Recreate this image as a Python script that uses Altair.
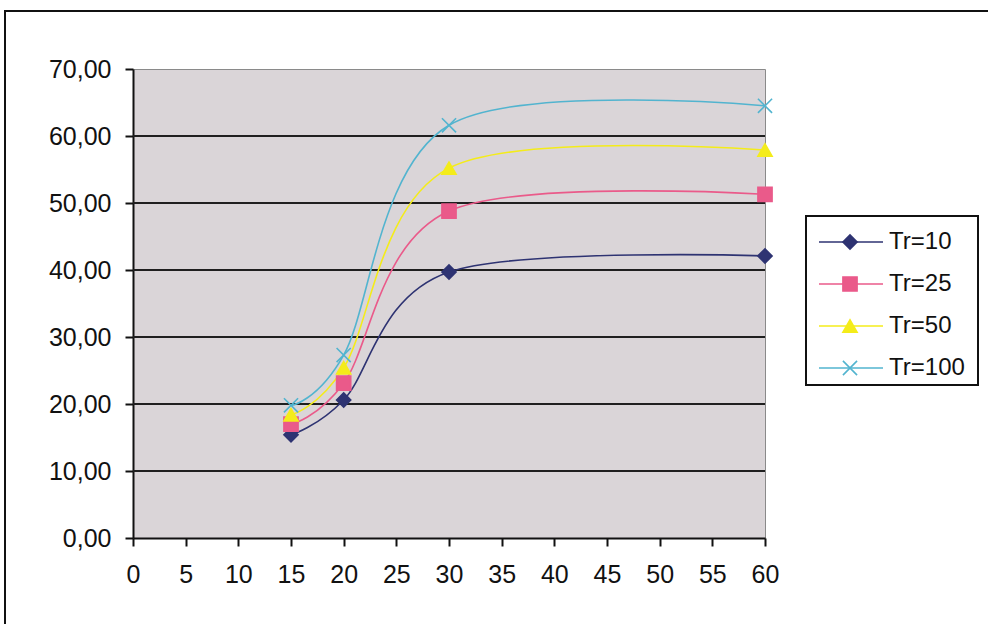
import altair as alt
import pandas as pd

# Return period series, measured at four durations
series = ["Tr=10", "Tr=25", "Tr=50", "Tr=100"]
durations = [15, 20, 30, 60]
tr10 = [15.4, 20.6, 39.7, 42.1]
tr25 = [17.0, 23.1, 48.8, 51.3]
tr50 = [18.4, 25.4, 55.2, 57.9]
tr100 = [19.8, 27.3, 61.6, 64.5]
grid_values = [10, 20, 30, 40, 50, 60]

colors = ["#2e3372", "#ea5a8a", "#f4ec1a", "#52b4cf"]
shapes = ["diamond", "square", "triangle-up", "M-1,-1L1,1M-1,1L1,-1"]

rows = []
for name, vals in zip(series, [tr10, tr25, tr50, tr100]):
    for d, v in zip(durations, vals):
        rows.append({"series": name, "dur": d, "val": v})
df = pd.DataFrame(rows)
legend_df = pd.DataFrame({"series": series})
grid_df = pd.DataFrame({"g": grid_values})

FONT = "Liberation Sans"
W, H = 632, 469
PL, PT = 133, 69

color_scale = alt.Scale(domain=series, range=colors)
shape_scale = alt.Scale(domain=series, range=shapes)
yq = alt.Scale(domain=[0, 70], nice=False)
xq = alt.Scale(domain=[0, 60], nice=False)

x_enc = alt.X(
    "dur:Q", scale=xq, title=None,
    axis=alt.Axis(values=list(range(0, 65, 5)), grid=False, domainColor="#111",
                  domainWidth=2, tickColor="#111", tickWidth=2, tickSize=8,
                  labelFont=FONT, labelFontSize=25, labelColor="#111",
                  labelPadding=16, labelFlush=False),
)
y_enc = alt.Y(
    "val:Q", scale=yq, title=None,
    axis=alt.Axis(values=list(range(0, 80, 10)), grid=False, domainColor="#111",
                  domainWidth=2, tickColor="#111", tickWidth=2, tickSize=8,
                  labelFont=FONT, labelFontSize=25, labelColor="#111",
                  labelPadding=14,
                  labelExpr="replace(format(datum.value, '.2f'), '.', ',')"),
)

# Outer frame around the whole chart
frame = alt.Chart(legend_df).mark_rect(
    fill="white", fillOpacity=0, stroke="#111", strokeWidth=2
).encode(
    x=alt.value(5 - PL), x2=alt.value(1000 - PL),
    y=alt.value(11 - PT), y2=alt.value(700 - PT),
)

grid = alt.Chart(grid_df).mark_rule(color="#1f1f1f", strokeWidth=2).encode(
    y=alt.Y("g:Q", scale=yq, axis=None)
)

lines = alt.Chart(df).mark_line(
    interpolate="cardinal", tension=0, strokeWidth=1.6
).encode(
    x=x_enc, y=y_enc,
    color=alt.Color("series:N", scale=color_scale, legend=None),
    detail="series:N",
)

points = alt.Chart(df).mark_point(filled=True, size=200, strokeWidth=1.6, opacity=1).encode(
    x=alt.X("dur:Q", scale=xq),
    y=alt.Y("val:Q", scale=yq, axis=None),
    color=alt.Color("series:N", scale=color_scale, legend=None),
    stroke=alt.Stroke("series:N", scale=color_scale, legend=None),
    shape=alt.Shape("series:N", scale=shape_scale, legend=None),
)

# Legend drawn as its own layers
ly = alt.Y("series:N", scale=alt.Scale(type="point", domain=series,
                                       range=[242 - PT, 368 - PT], padding=0),
           axis=None)
lbox = alt.Chart(legend_df).mark_rect(
    fill="white", stroke="#111", strokeWidth=2
).encode(
    x=alt.value(806 - PL), x2=alt.value(978 - PL),
    y=alt.value(216 - PT), y2=alt.value(385 - PT),
)
lline = alt.Chart(legend_df).mark_rule(strokeWidth=1.6).encode(
    x=alt.value(819 - PL), x2=alt.value(883 - PL), y=ly,
    color=alt.Color("series:N", scale=color_scale, legend=None),
)
lsym = alt.Chart(legend_df).mark_point(filled=True, size=200, strokeWidth=1.6, opacity=1).encode(
    x=alt.value(850 - PL), y=ly,
    color=alt.Color("series:N", scale=color_scale, legend=None),
    stroke=alt.Stroke("series:N", scale=color_scale, legend=None),
    shape=alt.Shape("series:N", scale=shape_scale, legend=None),
)
ltext = alt.Chart(legend_df).mark_text(
    align="left", baseline="middle", font=FONT, fontSize=24, color="#111"
).encode(
    x=alt.value(889 - PL), y=ly, text="series:N",
)

chart = alt.layer(
    frame, grid, lines, points, lbox, lline, lsym, ltext
).resolve_scale(y="independent").properties(
    width=W, height=H,
    autosize=alt.AutoSizeParams(type="none"),
    padding={"left": PL, "top": PT, "right": 988 - PL - W, "bottom": 624 - PT - H},
    background="white",
).configure_view(
    fill="#dad5d8", stroke="#8a8a8a", strokeWidth=1
)

chart.save("out.html", embed_options={"renderer": "svg", "actions": False})
